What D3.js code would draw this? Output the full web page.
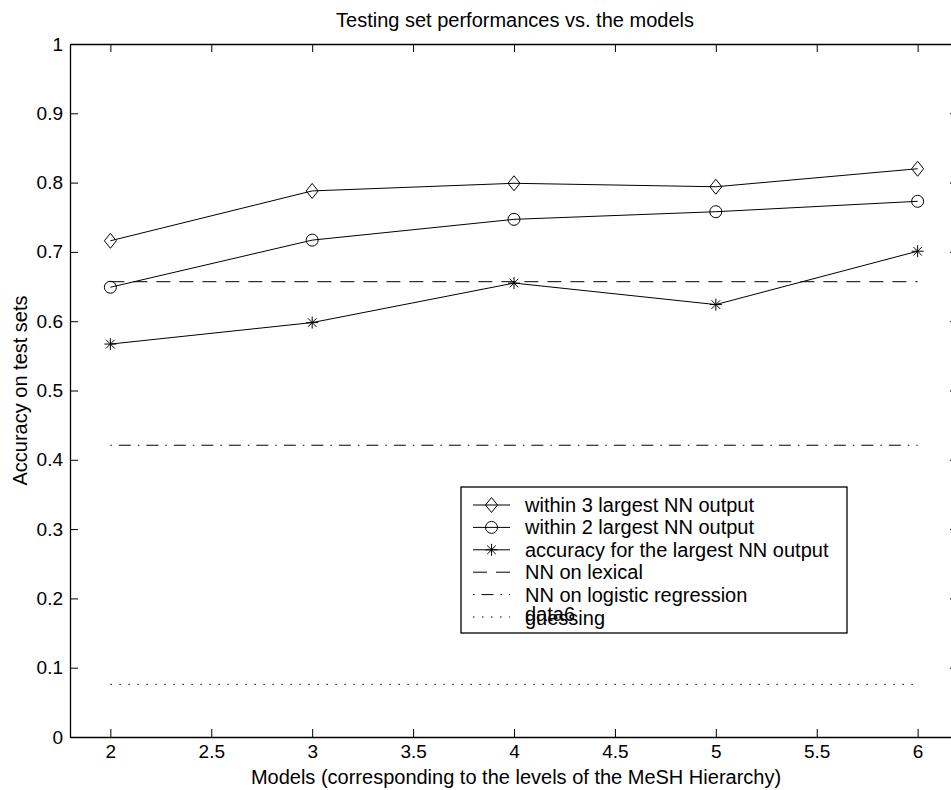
<!DOCTYPE html>
<html>
<head>
<meta charset="utf-8">
<script src="https://cdn.jsdelivr.net/npm/d3@7"></script>
<style>
  html, body { margin: 0; padding: 0; background: #fff; }
  svg { display: block; }
  text { font-family: "Liberation Sans", Arial, Helvetica, sans-serif; fill: #000; }
</style>
</head>
<body>
<svg id="chart" width="951" height="790"></svg>
<script>
// ---- data ----
const models = [2, 3, 4, 5, 6];
const within3 = [0.716, 0.788, 0.799, 0.794, 0.820];
const within2 = [0.649, 0.717, 0.747, 0.758, 0.773];
const largest = [0.567, 0.598, 0.655, 0.624, 0.701];
const lexicalLevel = 0.657;
const logisticLevel = 0.421;
const guessingLevel = 0.076;
const xTicks = [2, 2.5, 3, 3.5, 4, 4.5, 5, 5.5, 6];
const yTicks = [0, 0.1, 0.2, 0.3, 0.4, 0.5, 0.6, 0.7, 0.8, 0.9, 1];
const legendLabels = [
  "within 3 largest NN output",
  "within 2 largest NN output",
  "accuracy for the largest NN output",
  "NN on lexical",
  "NN on logistic regression",
  "data6",
  "guessing"
];
const titleText = "Testing set performances vs. the models";
const xLabelText = "Models (corresponding to the levels of the MeSH Hierarchy)";
const yLabelText = "Accuracy on test sets";

// ---- layout ----
const svg = d3.select("#chart");
const L = 70, T = 44, R = 958, B = 737;
const x = d3.scaleLinear().domain([1.8, 6.2]).range([L, R]);
const y = d3.scaleLinear().domain([0, 1]).range([B, T]);

svg.append("rect").attr("width", 951).attr("height", 790).attr("fill", "#fff");

const tickLen = 8;
const axFont = "19px";

// axes via d3 axis generators (ticks inward)
const gB = svg.append("g").attr("transform", `translate(0,${B})`)
  .call(d3.axisBottom(x).tickValues(xTicks).tickFormat(d3.format("")).tickSizeInner(-tickLen).tickSizeOuter(0).tickPadding(8));
const gT = svg.append("g").attr("transform", `translate(0,${T})`)
  .call(d3.axisTop(x).tickValues(xTicks).tickFormat("").tickSizeInner(-tickLen).tickSizeOuter(0));
const gL = svg.append("g").attr("transform", `translate(${L},0)`)
  .call(d3.axisLeft(y).tickValues(yTicks).tickFormat(d3.format("")).tickSizeInner(-tickLen).tickSizeOuter(0).tickPadding(7));
const gR = svg.append("g").attr("transform", `translate(${R},0)`)
  .call(d3.axisRight(y).tickValues(yTicks).tickFormat("").tickSizeInner(-tickLen).tickSizeOuter(0));

[gB, gT, gL, gR].forEach(g => {
  g.select(".domain").attr("stroke", "#000").attr("stroke-width", 1.3);
  g.selectAll(".tick line").attr("stroke", "#000").attr("stroke-width", 1);
  g.selectAll("text").style("font-size", axFont).style("font-family", "Liberation Sans, Arial, sans-serif").attr("fill", "#000");
});
gB.selectAll("text").attr("dy", "0.71em");

// reference lines
function hline(level, dash) {
  svg.append("line")
    .attr("x1", x(models[0])).attr("x2", x(models[models.length - 1]))
    .attr("y1", y(level)).attr("y2", y(level))
    .attr("stroke", "#000").attr("stroke-width", 1)
    .attr("stroke-dasharray", dash);
}
hline(lexicalLevel, "14,9");
hline(logisticLevel, "1.5,7,12,7");
hline(guessingLevel, "1.5,7.5");

// series
const line = d3.line().x((d, i) => x(models[i])).y(d => y(d));
const seriesList = [
  { values: within3, marker: "diamond" },
  { values: within2, marker: "circle" },
  { values: largest, marker: "star" }
];

function drawMarker(g, type, cx, cy) {
  if (type === "diamond") {
    g.append("path").attr("d", `M${cx},${cy - 7.5}L${cx + 6},${cy}L${cx},${cy + 7.5}L${cx - 6},${cy}Z`)
      .attr("fill", "none").attr("stroke", "#000").attr("stroke-width", 1);
  } else if (type === "circle") {
    g.append("circle").attr("cx", cx).attr("cy", cy).attr("r", 6)
      .attr("fill", "none").attr("stroke", "#000").attr("stroke-width", 1);
  } else {
    const r = 6, d = 4.3;
    g.append("path").attr("d",
      `M${cx},${cy - r}L${cx},${cy + r}M${cx - r},${cy}L${cx + r},${cy}` +
      `M${cx - d},${cy - d}L${cx + d},${cy + d}M${cx - d},${cy + d}L${cx + d},${cy - d}`)
      .attr("stroke", "#000").attr("stroke-width", 1);
  }
}

seriesList.forEach(s => {
  svg.append("path").datum(s.values).attr("d", line)
    .attr("fill", "none").attr("stroke", "#000").attr("stroke-width", 1);
  const g = svg.append("g");
  s.values.forEach((v, i) => drawMarker(g, s.marker, x(models[i]), y(v)));
});

// title & labels
svg.append("text").attr("x", 515).attr("y", 27).attr("text-anchor", "middle")
  .style("font-size", "20px").text(titleText);
svg.append("text").attr("x", 516).attr("y", 784).attr("text-anchor", "middle")
  .style("font-size", "20px").text(xLabelText);
svg.append("text").attr("transform", `translate(27,${(T + B) / 2}) rotate(-90)`).attr("text-anchor", "middle")
  .style("font-size", "20px").text(yLabelText);

// legend
const lg = svg.append("g");
lg.append("rect").attr("x", 461).attr("y", 487).attr("width", 386).attr("height", 146)
  .attr("fill", "#fff").attr("stroke", "#000").attr("stroke-width", 1.3);
const rowY = i => 505 + i * 22.4;
const sampleX1 = 473, sampleX2 = 510, textX = 525;
const samples = [
  { marker: "diamond", dash: null },
  { marker: "circle", dash: null },
  { marker: "star", dash: null },
  { marker: null, dash: "14,9" },
  { marker: null, dash: "1.5,7,12,7" },
  { marker: null, dash: "1.5,7.5" }
];
samples.forEach((s, i) => {
  const yy = rowY(i);
  lg.append("line").attr("x1", sampleX1).attr("x2", sampleX2).attr("y1", yy).attr("y2", yy)
    .attr("stroke", "#000").attr("stroke-width", 1).attr("stroke-dasharray", s.dash);
  if (s.marker) drawMarker(lg, s.marker, (sampleX1 + sampleX2) / 2, yy);
});
legendLabels.forEach((t, i) => {
  let yy;
  if (i < 5) yy = rowY(i);
  else if (i === 5) yy = rowY(5) - 3;
  else yy = rowY(5) + 1;
  lg.append("text").attr("x", textX).attr("y", yy).attr("dy", "0.35em")
    .style("font-size", "20px").text(t);
});
</script>
</body>
</html>
